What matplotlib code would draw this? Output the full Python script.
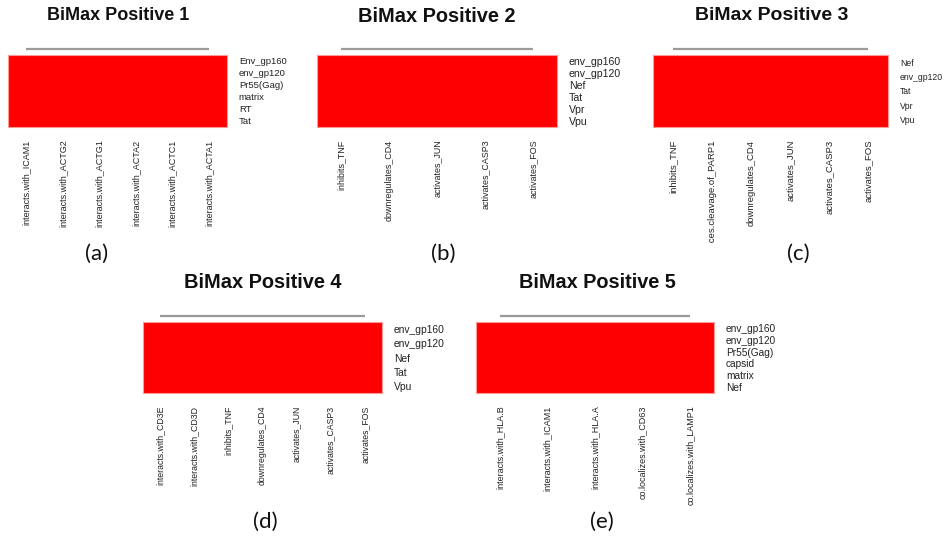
import matplotlib
matplotlib.use("Agg")
import matplotlib.pyplot as plt
import numpy as np
from matplotlib.colors import ListedColormap
from matplotlib.transforms import Bbox, TransformedBbox, blended_transform_factory

# ---- bicluster contents -------------------------------------------------
titles = ["BiMax Positive 1", "BiMax Positive 2", "BiMax Positive 3",
          "BiMax Positive 4", "BiMax Positive 5"]
panel_tags = ["(a)", "(b)", "(c)", "(d)", "(e)"]

rows_1 = ["Env_gp160", "env_gp120", "Pr55(Gag)", "matrix", "RT", "Tat"]
cols_1 = ["interacts.with_ICAM1", "interacts.with_ACTG2", "interacts.with_ACTG1",
          "interacts.with_ACTA2", "interacts.with_ACTC1", "interacts.with_ACTA1"]
vals_1 = [[1, 1, 1, 1, 1, 1],
          [1, 1, 1, 1, 1, 1],
          [1, 1, 1, 1, 1, 1],
          [1, 1, 1, 1, 1, 1],
          [1, 1, 1, 1, 1, 1],
          [1, 1, 1, 1, 1, 1]]

rows_2 = ["env_gp160", "env_gp120", "Nef", "Tat", "Vpr", "Vpu"]
cols_2 = ["inhibits_TNF", "downregulates_CD4", "activates_JUN",
          "activates_CASP3", "activates_FOS"]
vals_2 = [[1, 1, 1, 1, 1],
          [1, 1, 1, 1, 1],
          [1, 1, 1, 1, 1],
          [1, 1, 1, 1, 1],
          [1, 1, 1, 1, 1],
          [1, 1, 1, 1, 1]]

rows_3 = ["Nef", "env_gp120", "Tat", "Vpr", "Vpu"]
cols_3 = ["inhibits_TNF", "induces.cleavage.of_PARP1", "downregulates_CD4",
          "activates_JUN", "activates_CASP3", "activates_FOS"]
vals_3 = [[1, 1, 1, 1, 1, 1],
          [1, 1, 1, 1, 1, 1],
          [1, 1, 1, 1, 1, 1],
          [1, 1, 1, 1, 1, 1],
          [1, 1, 1, 1, 1, 1]]

rows_4 = ["env_gp160", "env_gp120", "Nef", "Tat", "Vpu"]
cols_4 = ["interacts.with_CD3E", "interacts.with_CD3D", "inhibits_TNF",
          "downregulates_CD4", "activates_JUN", "activates_CASP3", "activates_FOS"]
vals_4 = [[1, 1, 1, 1, 1, 1, 1],
          [1, 1, 1, 1, 1, 1, 1],
          [1, 1, 1, 1, 1, 1, 1],
          [1, 1, 1, 1, 1, 1, 1],
          [1, 1, 1, 1, 1, 1, 1]]

rows_5 = ["env_gp160", "env_gp120", "Pr55(Gag)", "capsid", "matrix", "Nef"]
cols_5 = ["interacts.with_HLA.B", "interacts.with_ICAM1", "interacts.with_HLA.A",
          "co.localizes.with_CD63", "co.localizes.with_LAMP1"]
vals_5 = [[1, 1, 1, 1, 1],
          [1, 1, 1, 1, 1],
          [1, 1, 1, 1, 1],
          [1, 1, 1, 1, 1],
          [1, 1, 1, 1, 1],
          [1, 1, 1, 1, 1]]

panels = [(rows_1, cols_1, vals_1), (rows_2, cols_2, vals_2),
          (rows_3, cols_3, vals_3), (rows_4, cols_4, vals_4),
          (rows_5, cols_5, vals_5)]

# ---- layout (pixels, origin top-left) -----------------------------------
W, H = 952, 540
# heatmap box (left, top, right, bottom), title centre, tag centre,
# bottom edge of the column-label area, and font sizes of each panel
layout = [
    dict(box=(8, 55, 227, 127), title=(118, 16), tag=(97, 254), clip=None,
         tsize=13.0, rsize=6.8, csize=6.5),
    dict(box=(317, 55, 557, 127), title=(437, 16), tag=(443, 254), clip=None,
         tsize=14.4, rsize=7.6, csize=6.4),
    dict(box=(653, 55, 888, 127), title=(772, 16), tag=(798, 254), clip=243,
         tsize=14.0, rsize=6.2, csize=6.8),
    dict(box=(143, 322, 382, 393), title=(263, 282), tag=(265, 522), clip=None,
         tsize=14.4, rsize=7.4, csize=6.3),
    dict(box=(476, 322, 714, 393), title=(597, 282), tag=(602, 522), clip=506,
         tsize=14.3, rsize=7.3, csize=6.5),
]

LABEL_FONT = "Liberation Sans"
cmap = ListedColormap(["#FFFFFF", "#FF0000"])

fig = plt.figure(figsize=(W / 100, H / 100), dpi=100)
fig.patch.set_facecolor("white")

for (rows, cols, vals), lay, title, tag in zip(panels, layout, titles, panel_tags):
    l, t, r, b = lay["box"]
    ax = fig.add_axes([l / W, 1 - b / H, (r - l) / W, (b - t) / H])
    data = np.array(vals)
    ax.imshow(data, cmap=cmap, vmin=0, vmax=1, aspect="auto",
              interpolation="nearest")
    for s in ax.spines.values():
        s.set_edgecolor("#FF9A9A")
        s.set_linewidth(0.8)

    # column labels below, rotated
    ax.set_xticks(np.arange(len(cols)), cols, rotation=90,
                  fontsize=lay["csize"], family=LABEL_FONT, color="#222222")
    # row labels on the right
    ax.yaxis.tick_right()
    ax.set_yticks(np.arange(len(rows)), rows, fontsize=lay["rsize"],
                  family=LABEL_FONT, color="#222222")
    ax.tick_params(axis="x", length=0, pad=9)
    ax.tick_params(axis="y", length=0, pad=8.5)

    # flat column dendrogram
    trans = blended_transform_factory(ax.transData, ax.transAxes)
    ax.plot([0, len(cols) - 1], [1 + 6 / (b - t)] * 2, color="#9A9A9A",
            lw=1.6, transform=trans, clip_on=False, solid_capstyle="butt")

    if lay["clip"] is not None:
        cb = TransformedBbox(Bbox.from_extents(0, 1 - lay["clip"] / H, 1, 1),
                             fig.transFigure)
        for lab in ax.get_xticklabels():
            lab.set_clip_box(cb)
            lab.set_clip_on(True)

    tx, ty = lay["title"]
    fig.text(tx / W, 1 - ty / H, title, ha="center", va="center",
             fontsize=lay["tsize"], fontweight="bold", family=LABEL_FONT,
             color="#111111")
    gx, gy = lay["tag"]
    fig.text(gx / W, 1 - gy / H, tag, ha="center", va="center",
             fontsize=16, family="Lato", color="#111111")

fig.savefig("out.png", dpi=100, facecolor="white")
